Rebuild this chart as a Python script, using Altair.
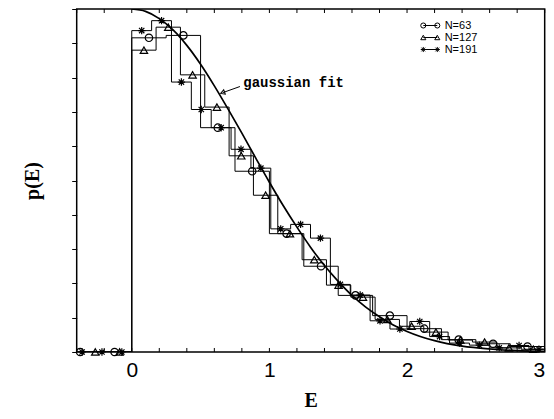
import altair as alt
import pandas as pd

# ---------------- data ----------------
series_names = ["N=63", "N=127", "N=191"]
bin_width = {"N=63": 0.25, "N=127": 0.1768, "N=191": 0.1443}
neg_bins = {"N=63": 2, "N=127": 2, "N=191": 3}   # empty bins below E=0

p63 = [0, 0, 0.916, 0.923, 0.654, 0.527, 0.345, 0.250, 0.165, 0.106,
       0.068, 0.036, 0.024, 0.016]
p127 = [0, 0, 0.880, 0.947, 0.808, 0.714, 0.572, 0.457, 0.345, 0.269,
        0.195, 0.160, 0.095, 0.075, 0.058, 0.035, 0.029, 0.012, 0.008]
p191 = [0, 0, 0, 0.937, 0.966, 0.787, 0.707, 0.654, 0.591, 0.536, 0.359,
        0.372, 0.332, 0.197, 0.166, 0.091, 0.067, 0.089, 0.045, 0.026,
        0.020, 0.012, 0.019, 0.008]
values = {"N=63": p63, "N=127": p127, "N=191": p191}

gauss_E = [0.0, 0.1, 0.2, 0.3, 0.4, 0.5, 0.6, 0.7, 0.8, 0.9, 1.0, 1.1, 1.2,
           1.3, 1.4, 1.5, 1.6, 1.7, 1.8, 1.9, 2.0, 2.2, 2.4, 2.6, 2.8, 3.0]
gauss_p = [1.000, 0.993, 0.972, 0.939, 0.894, 0.839, 0.776, 0.708, 0.638,
           0.566, 0.495, 0.427, 0.364, 0.305, 0.252, 0.206, 0.165, 0.131,
           0.103, 0.079, 0.060, 0.033, 0.017, 0.0087, 0.0040, 0.0018]

x_ticks = [-0.4, -0.2, 0.0, 0.2, 0.4, 0.6, 0.8, 1.0, 1.2, 1.4, 1.6, 1.8,
           2.0, 2.2, 2.4, 2.6, 2.8, 3.0]
x_labels = [0, 1, 2, 3]
y_ticks = [0.0, 0.1, 0.2, 0.3, 0.4, 0.5, 0.6, 0.7, 0.8, 0.9, 1.0]

arrow_E = [0.786, 0.66]
arrow_p = [0.774, 0.756]
label_E = [0.81]
label_p = [0.784]
label_text = ["gaussian fit"]

# ---------------- tables ----------------
step_rows, mark_rows = [], []
for name in series_names:
    w, n, vals = bin_width[name], neg_bins[name], values[name]
    for i, v in enumerate(vals):
        step_rows.append({"series": name, "E": (i - n) * w, "p": v, "o": i})
        mark_rows.append({"series": name, "E": (i - n + 0.5) * w, "p": v})
    step_rows.append({"series": name, "E": (len(vals) - n) * w,
                      "p": vals[-1], "o": len(vals)})
steps = pd.DataFrame(step_rows)
marks = pd.DataFrame(mark_rows)
marks = marks[(marks["E"] >= -0.4) & (marks["E"] <= 3.0)]
gauss = pd.DataFrame({"E": gauss_E, "p": gauss_p})
ticks = pd.DataFrame({"E": x_ticks})
arrow = pd.DataFrame({"E": arrow_E, "p": arrow_p})
label = pd.DataFrame({"E": label_E, "p": label_p, "t": label_text})
leg = pd.DataFrame({"series": series_names, "ly": [16.5, 28.5, 40.5]})

W, H = 468, 343

STAR = "M-1,0L1,0M0,-1L0,1M-0.72,-0.72L0.72,0.72M-0.72,0.72L0.72,-0.72"
shape_scale = alt.Scale(domain=series_names, range=["circle", "triangle-up", STAR])
size_scale = alt.Scale(domain=series_names, range=[55, 55, 85])

xscale = alt.Scale(domain=[-0.4, 3.0], nice=False, zero=False)
yscale = alt.Scale(domain=[0, 1], nice=False, zero=True)

X = alt.X("E:Q", scale=xscale, axis=alt.Axis(
    values=x_labels, tickSize=0, domain=False, grid=False, labelFlush=True,
    labelFont="Liberation Sans", labelFontSize=21, labelColor="black",
    labelPadding=8, title="E", titleFont="Liberation Serif",
    titleFontSize=20, titleFontWeight="bold", titleColor="black",
    titleY=49, titleBaseline="middle"))
Y = alt.Y("p:Q", scale=yscale, axis=alt.Axis(
    values=y_ticks, labels=False, tickSize=5, tickColor="black",
    tickWidth=1, domain=False, grid=False, title="p(E)",
    titleFont="Liberation Serif", titleFontSize=20, titleFontWeight="bold",
    titleColor="black", titleX=-44, titleY=H / 2, titleAngle=270,
    titleAlign="center", titleBaseline="middle"))

step_lines = alt.Chart(steps).mark_line(
    interpolate="step-after", color="black", strokeWidth=1, clip=True
).encode(x=X, y=Y, detail="series:N", order="o:Q")

points = alt.Chart(marks).mark_point(
    filled=False, color="black", strokeWidth=1.2, opacity=1
).encode(
    x=X, y=Y,
    shape=alt.Shape("series:N", scale=shape_scale, legend=None),
    size=alt.Size("series:N", scale=size_scale, legend=None),
)

gauss_line = alt.Chart(gauss).mark_line(
    color="black", strokeWidth=1.7, interpolate="monotone", clip=True
).encode(x=X, y=Y)

arrow_line = alt.Chart(arrow).mark_line(color="black", strokeWidth=1).encode(x=X, y=Y)
arrow_head = alt.Chart(arrow.tail(1)).mark_point(
    shape="triangle-left", angle=340, size=22, filled=False,
    color="black", strokeWidth=1, opacity=1
).encode(x=X, y=Y)
label_text_layer = alt.Chart(label).mark_text(
    align="left", baseline="middle", font="Liberation Mono",
    fontSize=14, fontWeight="bold", color="black"
).encode(x=X, y=Y, text="t:N")

top_ticks = alt.Chart(ticks).mark_rule(color="black", strokeWidth=1).encode(
    x=X, y=alt.value(0), y2=alt.value(4))
bottom_ticks = alt.Chart(ticks).mark_rule(color="black", strokeWidth=1).encode(
    x=X, y=alt.value(H), y2=alt.value(H - 4))

leg_y = alt.Y("ly:Q", scale=None)
leg_line = alt.Chart(leg).mark_rule(color="black", strokeWidth=1).encode(
    x=alt.value(346.6), x2=alt.value(360.6), y=leg_y)
leg_pts_l = alt.Chart(leg).mark_point(
    filled=False, color="black", strokeWidth=1, opacity=1
).encode(x=alt.value(346.6), y=leg_y,
         shape=alt.Shape("series:N", scale=shape_scale, legend=None),
         size=alt.value(26))
leg_pts_r = alt.Chart(leg).mark_point(
    filled=False, color="black", strokeWidth=1, opacity=1
).encode(x=alt.value(360.6), y=leg_y,
         shape=alt.Shape("series:N", scale=shape_scale, legend=None),
         size=alt.value(26))
leg_text = alt.Chart(leg).mark_text(
    align="left", baseline="middle", font="Liberation Sans",
    fontSize=11, color="black"
).encode(x=alt.value(368), y=leg_y, text="series:N")

chart = alt.layer(
    step_lines, gauss_line, points, arrow_line, arrow_head, label_text_layer,
    top_ticks, bottom_ticks, leg_line, leg_pts_l, leg_pts_r, leg_text
).properties(
    width=W, height=H,
    autosize=alt.AutoSizeParams(type="none"),
    padding={"left": 68.7, "top": 1, "right": 1, "bottom": 59},
    background="white",
).configure_view(stroke="black", strokeWidth=1.5)

chart.save("out.html", embed_options={"renderer": "svg", "actions": False})
